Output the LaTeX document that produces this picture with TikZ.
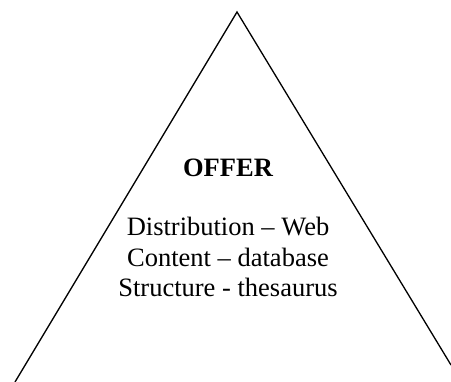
\documentclass[tikz,border=0pt]{standalone}
\usepackage{fontspec}
\setmainfont{Liberation Serif}
\usetikzlibrary{calc}

\begin{document}
\begin{tikzpicture}[x=1pt,y=-1pt]
    \useasboundingbox (0,0) rectangle (451,382);
    %triangle
    \coordinate (top) at (237,12);
    \coordinate (left) at (15,382);
    \coordinate (right) at (451,365);
    \draw[line width=1.3pt] (left) -- (top) -- (right);
    %title
    \node[anchor=base,inner sep=0pt,font=\fontsize{26.5}{30.5}\selectfont\bfseries] (offer) at (228,177) {OFFER};
    %lines (base = last line)
    \node[anchor=base,inner sep=0pt,align=center,font=\fontsize{26.5}{30.5}\selectfont] (items) at (228,297) {Distribution -- Web\\Content -- database\\Structure - thesaurus};
\end{tikzpicture}
\end{document}
